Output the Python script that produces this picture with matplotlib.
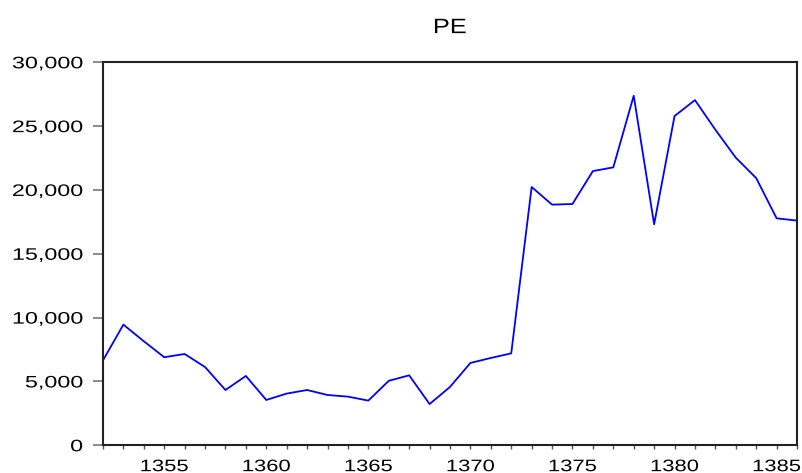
import matplotlib.pyplot as plt
import matplotlib.ticker as mticker
from matplotlib.patheffects import AbstractPathEffect
from matplotlib.transforms import Affine2D
import numpy as np

plt.rcParams['font.family'] = ['Liberation Sans', 'DejaVu Sans']

years = np.arange(1352, 1387)
pe = [6650, 9450, 8150, 6900, 7150, 6130, 4330, 5430, 3550, 4050,
      4330, 3940, 3810, 3500, 5050, 5480, 3230, 4570, 6450, 6840,
      7200, 20230, 18850, 18900, 21480, 21770, 27380, 17310, 25790, 27040,
      24720, 22530, 20930, 17780, 17600]


# the original text is drawn horizontally stretched, so widen the glyphs
class Wide(AbstractPathEffect):
    def __init__(self, sx, anchor='center'):
        super().__init__()
        self.sx = sx
        self.anchor = anchor

    def draw_path(self, renderer, gc, tpath, affine, rgbFace=None):
        ext = tpath.get_extents()
        x0 = ext.x1 if self.anchor == 'right' else (ext.x0 + ext.x1) / 2
        t = Affine2D().translate(-x0, 0).scale(self.sx, 1).translate(x0, 0)
        renderer.draw_path(gc, tpath, t + affine, rgbFace)


fig = plt.figure(figsize=(8.02, 4.73), dpi=100)
ax = fig.add_axes([0.1284, 0.0586, 0.8654, 0.8097])

ax.plot(years, pe, color='#0000FF', linewidth=1.3)

ax.set_xlim(1352, 1386)
ax.set_ylim(0, 30000)
ax.set_xticks(np.arange(1355, 1386, 5))
ax.set_xticks(years, minor=True)
ax.set_yticks(np.arange(0, 30001, 5000))
ax.yaxis.set_major_formatter(mticker.FuncFormatter(lambda v, p: f'{int(v):,}'))

ax.tick_params(axis='x', which='both', direction='out', length=3, width=1, color='#555555',
               labelsize=12, pad=7)
ax.tick_params(axis='y', direction='out', length=7, width=1.2, color='#777777',
               labelsize=12, pad=7.5)
for s in ax.spines.values():
    s.set_linewidth(1.5)
    s.set_color('#222222')

for lbl in ax.get_xticklabels():
    lbl.set_path_effects([Wide(1.32)])
for lbl in ax.get_yticklabels():
    lbl.set_path_effects([Wide(1.4, 'right')])

t = ax.set_title('PE', fontsize=15, pad=21)
t.set_path_effects([Wide(1.22)])

fig.savefig('out.png', dpi=100)
